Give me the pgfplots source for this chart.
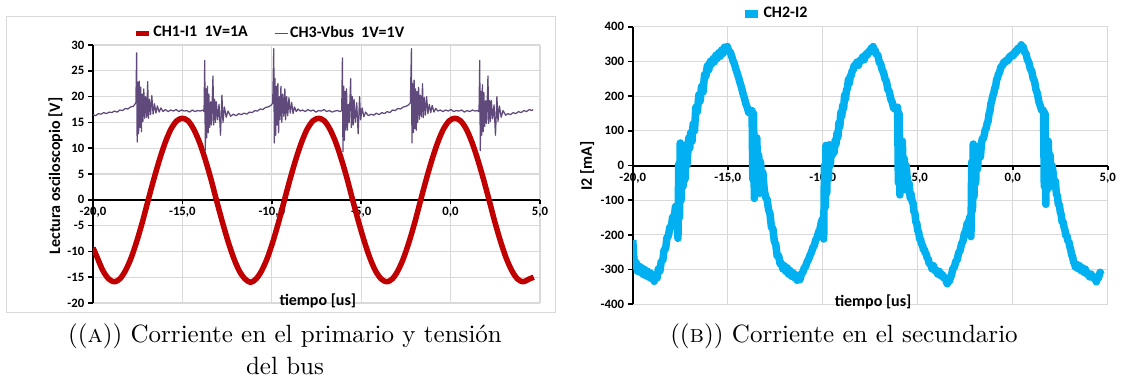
\documentclass[border=0pt]{standalone}
\usepackage{fontspec}
\usepackage{pgfplots}
\pgfplotsset{compat=1.18}
\newfontfamily\carlito{Carlito}
\newcommand\tickfont{\carlito\bfseries\fontsize{5.1}{6}\selectfont}
\newcommand\labfont{\carlito\bfseries\fontsize{6.4}{7.5}\selectfont}
\definecolor{chred}{RGB}{192,0,0}
\definecolor{chpurple}{RGB}{96,74,123}
\definecolor{chblue}{RGB}{0,176,240}
\definecolor{gridgray}{RGB}{217,217,217}
\pgfplotsset{
  excelaxis/.style={
    scale only axis, anchor=south west,
    xmin=-20, xmax=5,
    axis x line=middle, axis y line=left,
    axis line style={-, line width=0.8pt, black},
    xtick={-20,-15,-10,-5,0,5},
    xticklabels={{-20,0},{-15,0},{-10,0},{-5,0},{0,0},{5,0}},
    grid=major, major grid style={line width=0.45pt, color=gridgray},
    tick align=outside, major tick length=1.8pt,
    tick style={black, line width=0.7pt},
    hide obscured x ticks=false, hide obscured y ticks=false,
    ticklabel style={font=\tickfont},
    xticklabel style={inner sep=1pt},
    yticklabel style={inner sep=1.5pt},
    xlabel={tiempo [us]},
    xlabel style={anchor=center, font=\labfont},
    ylabel style={anchor=center, font=\labfont},
    legend style={draw=none, fill=none, anchor=center, font=\labfont,
      legend columns=2, cells={anchor=west},
      nodes={inner sep=0.6pt},
      /tikz/every even column/.append style={column sep=10pt}},
    legend image code/.code={\draw[##1, line cap=butt] (0pt,0pt) -- (5.2pt,0pt);},
  }
}
\begin{document}
\begin{tikzpicture}
\path[use as bounding box] (0pt,0pt) rectangle (450.8pt,150.8pt);
\draw[gridgray, line width=0.4pt] (2.6pt,26pt) rectangle (222.2pt,144.4pt);
% ---------- left chart ----------
\begin{axis}[excelaxis,
  at={(37.2pt,29.6pt)}, width=178.8pt, height=103.2pt,
  ymin=-20, ymax=30,
  ytick={-20,-15,-10,-5,0,5,10,15,20,25,30},
  yticklabels={-20,-15,-10,-5,0,5,10,15,20,25,30},
  ylabel={Lectura osciloscopio [V]},
  xlabel style={at={(axis description cs:0.503,0.008)}},
  ylabel style={at={(axis description cs:-0.084,0.492)}},
  legend style={at={(axis description cs:0.395,1.045)}},
]
\addplot[chred, line width=2.2pt, line join=round, smooth, tension=0.5] coordinates {
(-20.00,-9.3)(-19.76,-11.2)(-19.45,-13.7)(-19.13,-15.3)(-18.81,-15.9)(-18.49,-15.3)(-18.18,-13.7)(-17.86,-11.2)(-17.54,-7.9)(-17.22,-4.1)(-16.91,0)(-16.59,4.1)(-16.27,7.9)(-15.95,11.2)(-15.64,13.7)(-15.32,15.3)(-15.00,15.8)(-14.68,15.3)(-14.37,13.7)(-14.05,11.2)(-13.73,7.9)(-13.41,4.1)(-13.10,0)(-12.78,-4.1)(-12.46,-7.9)(-12.14,-11.2)(-11.83,-13.7)(-11.51,-15.3)(-11.19,-16.0)(-10.87,-15.3)(-10.56,-13.7)(-10.24,-11.2)(-9.92,-7.9)(-9.60,-4.1)(-9.29,0)(-8.97,4.1)(-8.65,7.9)(-8.33,11.2)(-8.02,13.7)(-7.70,15.3)(-7.38,15.8)(-7.06,15.3)(-6.75,13.7)(-6.43,11.2)(-6.11,7.9)(-5.79,4.1)(-5.48,0)(-5.16,-4.1)(-4.84,-7.9)(-4.52,-11.2)(-4.21,-13.7)(-3.89,-15.3)(-3.57,-15.9)(-3.25,-15.3)(-2.94,-13.7)(-2.62,-11.2)(-2.30,-7.9)(-1.98,-4.1)(-1.67,0)(-1.35,4.1)(-1.03,7.9)(-0.71,11.2)(-0.40,13.7)(-0.08,15.3)(0.24,15.8)(0.56,15.3)(0.88,13.7)(1.19,11.2)(1.51,7.9)(1.83,4.1)(2.15,0)(2.46,-4.1)(2.78,-7.9)(3.10,-11.2)(3.42,-13.7)(3.73,-15.3)(4.05,-15.9)(4.37,-15.4)(4.65,-15.0)
};
\addlegendentry{CH1-I1~~1V=1A}
\addplot[chpurple, line width=0.5pt, line join=round] coordinates {
(-20.00,16.5)(-19.85,16.3)(-19.70,16.7)(-19.55,16.6)(-19.40,16.9)(-19.25,16.7)(-19.10,17.0)(-18.95,16.9)(-18.80,17.2)(-18.65,17.0)(-18.50,17.4)(-18.35,17.3)(-18.20,17.7)(-18.05,17.6)(-17.90,18.0)(-17.75,18.1)(-17.66,18.5)(-17.60,18.9)
(-17.56,28.5)(-17.53,11.2)(-17.49,22.8)(-17.45,12.8)(-17.41,23.0)(-17.37,14.0)(-17.33,21.8)(-17.29,13.2)(-17.25,20.5)(-17.21,15.2)(-17.16,21.5)(-17.11,15.8)(-17.06,20.0)(-17.00,16.0)(-16.94,22.9)(-16.90,15.8)(-16.84,19.5)(-16.78,16.5)(-16.71,20.2)(-16.64,16.6)(-16.56,18.6)(-16.48,16.8)(-16.40,18.2)(-16.30,17.0)(-16.20,17.8)(-16.08,17.1)
(-15.95,17.5)(-15.80,17.1)(-15.65,17.4)(-15.50,17.2)(-15.35,17.5)(-15.20,17.1)(-15.05,17.4)(-14.90,17.2)(-14.75,17.3)(-14.60,17.0)(-14.45,17.4)(-14.30,17.1)(-14.15,17.3)(-14.00,17.2)(-13.85,17.4)(-13.79,17.1)
(-13.75,27.0)(-13.72,9.5)(-13.68,21.5)(-13.64,12.0)(-13.60,22.0)(-13.56,13.0)(-13.52,20.5)(-13.47,14.0)(-13.42,19.0)(-13.37,14.5)(-13.29,24.0)(-13.25,14.5)(-13.20,19.5)(-13.15,15.0)(-13.10,19.0)(-13.03,15.5)(-12.95,18.5)(-12.87,12.5)(-12.79,20.3)(-12.73,15.0)(-12.65,18.0)(-12.55,16.0)(-12.45,17.2)(-12.30,16.2)
(-12.15,16.6)(-12.00,16.3)(-11.85,16.7)(-11.70,16.5)(-11.55,16.8)(-11.40,16.6)(-11.25,17.0)(-11.10,16.9)(-10.95,17.3)(-10.80,17.2)(-10.65,17.6)(-10.50,17.5)(-10.35,17.9)(-10.20,18.0)(-10.05,18.3)(-9.95,18.7)
(-9.89,29.3)(-9.86,11.0)(-9.82,23.5)(-9.78,12.5)(-9.74,22.0)(-9.70,14.5)(-9.66,22.5)(-9.62,13.0)(-9.58,20.0)(-9.54,15.5)(-9.49,22.0)(-9.44,15.0)(-9.39,20.5)(-9.33,16.2)(-9.27,21.5)(-9.23,15.5)(-9.17,20.0)(-9.11,16.3)(-9.04,19.8)(-8.97,16.8)(-8.89,18.9)(-8.81,16.7)(-8.73,18.0)(-8.63,17.1)(-8.53,17.6)(-8.41,17.2)
(-8.28,17.4)(-8.13,17.1)(-7.98,17.5)(-7.83,17.2)(-7.68,17.4)(-7.53,17.0)(-7.38,17.3)(-7.23,17.2)(-7.08,17.5)(-6.93,17.1)(-6.78,17.3)(-6.63,17.0)(-6.48,17.2)(-6.33,17.3)(-6.18,17.1)(-6.09,17.3)
(-6.05,27.5)(-6.02,9.3)(-5.98,22.0)(-5.94,11.5)(-5.90,21.0)(-5.86,13.5)(-5.82,21.5)(-5.77,13.5)(-5.72,18.5)(-5.67,15.0)(-5.59,23.5)(-5.55,14.0)(-5.50,20.0)(-5.45,14.5)(-5.40,19.5)(-5.33,15.0)(-5.25,18.8)(-5.17,12.8)(-5.09,20.0)(-5.03,15.5)(-4.95,17.8)(-4.85,16.1)(-4.75,17.0)(-4.60,16.3)
(-4.45,16.6)(-4.30,16.4)(-4.15,16.8)(-4.00,16.5)(-3.85,16.9)(-3.70,16.7)(-3.55,17.1)(-3.40,16.9)(-3.25,17.4)(-3.10,17.3)(-2.95,17.7)(-2.80,17.6)(-2.65,18.0)(-2.50,18.1)(-2.35,18.4)(-2.25,18.8)
(-2.19,29.3)(-2.16,11.0)(-2.12,22.5)(-2.08,13.0)(-2.04,23.2)(-2.00,13.8)(-1.96,21.5)(-1.92,13.5)(-1.88,21.0)(-1.84,15.0)(-1.79,21.8)(-1.74,15.6)(-1.69,20.3)(-1.63,16.1)(-1.57,22.5)(-1.53,15.9)(-1.47,19.8)(-1.41,16.4)(-1.34,20.0)(-1.27,16.7)(-1.19,18.5)(-1.11,16.9)(-1.03,18.3)(-0.93,17.0)(-0.83,17.7)(-0.71,17.2)
(-0.58,17.4)(-0.43,17.1)(-0.28,17.4)(-0.13,17.2)(0.02,17.5)(0.17,17.1)(0.32,17.3)(0.47,17.2)(0.62,17.4)(0.77,17.0)(0.92,17.3)(1.07,17.1)(1.22,17.4)(1.37,17.2)(1.50,17.3)(1.59,17.1)
(1.63,27.0)(1.66,9.5)(1.70,21.0)(1.74,12.5)(1.78,22.3)(1.82,13.2)(1.86,20.8)(1.91,14.2)(1.96,19.2)(2.01,14.8)(2.09,24.0)(2.13,14.8)(2.18,19.3)(2.23,15.2)(2.28,19.2)(2.35,15.7)(2.43,18.4)(2.51,12.5)(2.59,20.0)(2.65,15.2)(2.73,18.2)(2.83,16.0)(2.93,17.3)(3.08,16.4)
(3.20,16.7)(3.35,16.5)(3.50,16.9)(3.65,16.7)(3.80,17.1)(3.95,16.9)(4.10,17.3)(4.25,17.1)(4.40,17.5)(4.55,17.3)(4.62,17.5)
};
\addlegendentry{CH3-Vbus~~1V=1V}
\end{axis}
% ---------- right chart ----------
\begin{axis}[excelaxis,
  at={(253.1pt,29.1pt)}, width=190pt, height=111pt,
  ymin=-400, ymax=400,
  ytick={-400,-300,-200,-100,0,100,200,300,400},
  yticklabels={-400,-300,-200,-100,0,100,200,300,400},
  ylabel={I2 [mA]},
  xlabel style={at={(axis description cs:0.506,0.009)}},
  ylabel style={at={(axis description cs:-0.096,0.498)}},
  legend style={at={(axis description cs:0.30,1.046)}},
]
\addplot[chblue, line width=3pt, line join=round] coordinates {
(-20.00,-215)(-19.95,-260)(-19.90,-290)(-19.82,-280)(-19.75,-305)(-19.67,-290)(-19.60,-308)(-19.52,-295)(-19.45,-314)(-19.37,-300)(-19.30,-318)(-19.22,-305)(-19.15,-322)(-19.07,-310)(-19.00,-326)(-18.92,-316)(-18.87,-334)(-18.80,-316)(-18.72,-324)(-18.65,-298)(-18.57,-304)(-18.50,-276)(-18.42,-274)(-18.35,-243)(-18.27,-240)(-18.20,-208)(-18.12,-202)(-18.05,-178)(-17.97,-177)(-17.90,-148)(-17.82,-150)(-17.75,-118)(-17.68,-132)
(-17.62,-210)(-17.58,5)(-17.54,-150)(-17.50,65)(-17.45,-100)(-17.40,40)(-17.35,-60)(-17.30,50)(-17.25,-40)(-17.20,60)(-17.15,0)(-17.10,40)(-17.05,80)(-17.00,50)(-16.95,95)(-16.88,70)(-16.82,120)(-16.75,100)(-16.68,168)(-16.60,155)(-16.52,204)(-16.45,186)(-16.38,228)(-16.30,212)(-16.22,262)(-16.15,258)(-16.07,288)(-16.00,276)(-15.92,300)(-15.85,292)(-15.77,308)(-15.70,299)(-15.62,318)(-15.55,309)(-15.47,325)(-15.40,315)(-15.32,333)(-15.25,323)(-15.17,341)(-15.10,332)(-15.02,343)(-14.95,330)(-14.87,327)(-14.80,316)(-14.72,302)(-14.65,293)(-14.57,277)(-14.50,266)(-14.42,252)(-14.35,238)(-14.27,224)(-14.20,208)(-14.12,194)(-14.05,178)(-13.97,167)(-13.90,153)(-13.82,152)(-13.76,150)
(-13.72,158)(-13.68,-40)(-13.64,150)(-13.60,-95)(-13.56,60)(-13.52,-60)(-13.47,80)(-13.42,-40)(-13.37,30)(-13.32,-80)(-13.27,10)(-13.22,-50)(-13.15,-20)(-13.08,-70)(-13.00,-92)(-12.93,-98)(-12.85,-128)(-12.78,-138)(-12.70,-178)(-12.62,-183)(-12.55,-218)(-12.47,-228)(-12.40,-261)(-12.32,-260)(-12.25,-283)(-12.17,-282)(-12.10,-298)(-12.02,-289)(-11.95,-305)(-11.87,-295)(-11.80,-313)(-11.72,-303)(-11.65,-319)(-11.57,-309)(-11.50,-323)(-11.42,-315)(-11.35,-331)(-11.27,-319)(-11.20,-329)(-11.12,-312)(-11.05,-308)(-10.97,-295)(-10.90,-291)(-10.82,-277)(-10.75,-271)(-10.67,-259)(-10.60,-251)(-10.52,-237)(-10.45,-231)(-10.37,-215)(-10.30,-208)(-10.22,-192)(-10.15,-185)(-10.07,-162)(-10.00,-153)
(-9.95,-212)(-9.91,0)(-9.87,-120)(-9.83,58)(-9.79,-80)(-9.75,40)(-9.70,-40)(-9.65,60)(-9.60,0)(-9.55,55)(-9.50,30)(-9.45,45)(-9.40,38)(-9.35,72)(-9.30,62)(-9.25,93)(-9.20,82)(-9.15,123)(-9.10,112)(-9.05,153)(-9.00,142)(-8.95,173)(-8.90,165)(-8.85,203)(-8.80,192)(-8.75,218)(-8.70,222)(-8.65,248)(-8.60,237)(-8.55,258)(-8.50,259)(-8.45,273)(-8.40,275)(-8.35,288)(-8.27,287)(-8.20,298)(-8.12,289)(-8.05,303)(-7.97,302)(-7.90,313)(-7.82,305)(-7.75,321)(-7.67,317)(-7.60,328)(-7.52,327)(-7.45,338)(-7.40,329)(-7.35,343)(-7.30,332)(-7.25,333)(-7.17,319)(-7.10,318)(-7.02,297)(-6.95,293)(-6.87,275)(-6.80,268)(-6.72,249)(-6.65,243)(-6.57,219)(-6.50,213)(-6.42,192)(-6.35,183)(-6.27,165)(-6.20,163)(-6.12,162)
(-6.06,168)(-6.02,-50)(-5.98,150)(-5.94,-85)(-5.90,40)(-5.86,-60)(-5.81,70)(-5.76,-40)(-5.71,20)(-5.66,-70)(-5.61,0)(-5.55,-40)(-5.50,-63)(-5.45,-52)(-5.40,-93)(-5.35,-82)(-5.30,-103)(-5.25,-107)(-5.20,-133)(-5.15,-137)(-5.10,-163)(-5.05,-167)(-5.00,-188)(-4.95,-192)(-4.90,-213)(-4.85,-212)(-4.80,-228)(-4.75,-229)(-4.70,-243)(-4.65,-242)(-4.60,-253)(-4.55,-255)(-4.50,-268)(-4.45,-269)(-4.40,-283)(-4.32,-285)(-4.25,-298)(-4.17,-289)(-4.10,-303)(-4.02,-302)(-3.95,-313)(-3.87,-305)(-3.80,-318)(-3.72,-313)(-3.65,-323)(-3.57,-323)(-3.50,-333)(-3.45,-341)(-3.40,-332)(-3.35,-335)(-3.30,-327)(-3.22,-315)(-3.15,-297)(-3.07,-293)(-3.00,-277)(-2.92,-271)(-2.85,-252)(-2.77,-245)(-2.70,-227)(-2.62,-218)(-2.55,-197)(-2.47,-188)(-2.40,-167)(-2.32,-163)(-2.25,-147)
(-2.20,-205)(-2.16,10)(-2.12,-130)(-2.08,62)(-2.04,-90)(-2.00,45)(-1.95,-50)(-1.90,55)(-1.85,-10)(-1.80,50)(-1.75,30)(-1.70,25)(-1.65,62)(-1.60,78)(-1.55,77)(-1.50,88)(-1.45,103)(-1.40,107)(-1.35,121)(-1.30,127)(-1.25,148)(-1.20,157)(-1.15,178)(-1.10,187)(-1.05,201)(-1.00,207)(-0.95,223)(-0.90,227)(-0.85,248)(-0.80,252)(-0.75,265)(-0.70,267)(-0.62,285)(-0.55,287)(-0.47,298)(-0.40,297)(-0.32,305)(-0.25,302)(-0.17,315)(-0.10,312)(-0.02,321)(0.05,317)(0.12,329)(0.20,327)(0.27,338)(0.35,337)(0.40,341)(0.45,348)(0.50,339)(0.55,342)(0.62,327)(0.70,322)(0.77,305)(0.85,297)(0.92,279)(1.00,272)(1.07,252)(1.15,242)(1.22,219)(1.30,207)(1.37,185)(1.45,172)(1.52,159)(1.58,160)
(1.62,158)(1.66,-60)(1.70,150)(1.74,-112)(1.78,50)(1.82,-70)(1.87,70)(1.92,-30)(1.97,30)(2.02,-60)(2.07,0)(2.12,-20)(2.18,-50)(2.24,-45)(2.30,-83)(2.35,-87)(2.40,-113)(2.45,-112)(2.50,-133)(2.55,-142)(2.60,-163)(2.65,-162)(2.70,-178)(2.75,-187)(2.80,-203)(2.85,-202)(2.90,-218)(2.95,-219)(3.00,-233)(3.05,-242)(3.10,-258)(3.15,-262)(3.20,-278)(3.25,-282)(3.30,-293)(3.37,-285)(3.45,-298)(3.52,-289)(3.60,-303)(3.67,-295)(3.75,-308)(3.82,-299)(3.90,-313)(3.97,-311)(4.05,-321)(4.12,-313)(4.20,-323)(4.27,-321)(4.35,-328)(4.40,-335)(4.45,-327)(4.50,-325)(4.55,-317)(4.60,-308)(4.65,-314)
};
\addlegendentry{CH2-I2}
\end{axis}
% ---------- captions ----------
\node[anchor=base, inner sep=0pt] at (114pt,14pt) {((\textsc{a})) Corriente en el primario y tensión};
\node[anchor=base, inner sep=0pt] at (114pt,1pt) {del bus};
\node[anchor=base, inner sep=0pt] at (337.6pt,14pt) {((\textsc{b})) Corriente en el secundario};
\end{tikzpicture}
\end{document}
